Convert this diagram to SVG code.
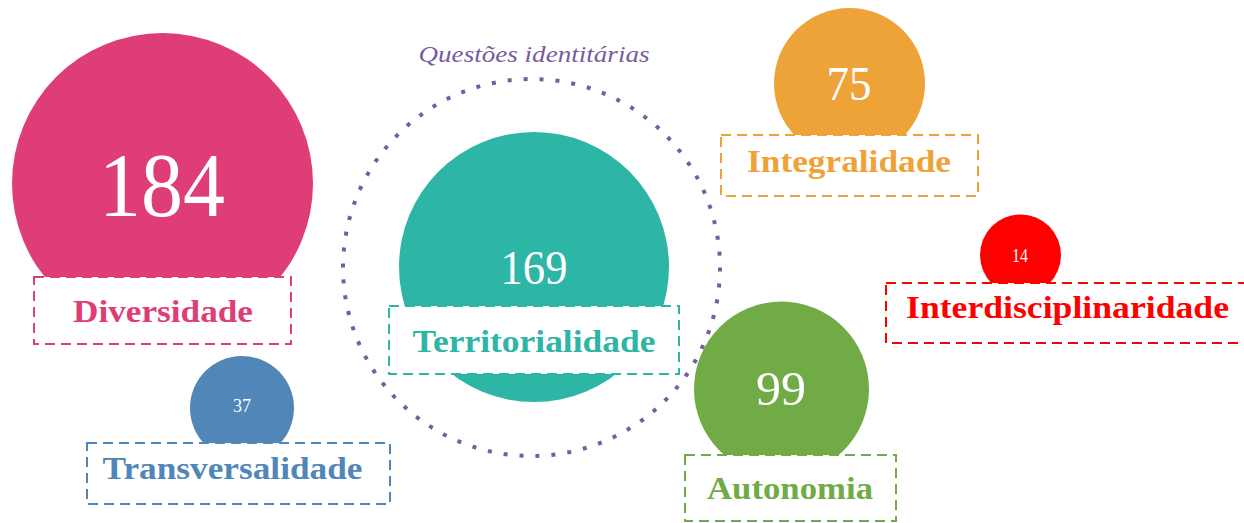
<svg xmlns="http://www.w3.org/2000/svg" width="1244" height="523" viewBox="0 0 1244 523">
<style>
text{font-family:"Liberation Serif","DejaVu Serif",serif;text-anchor:middle}
.num{fill:#ffffff;font-weight:normal}
.lbl{font-weight:bold;font-size:32px}
.box{fill:#ffffff;stroke-width:2;stroke-dasharray:10 6}
</style>
<rect width="1244" height="523" fill="#ffffff"/>
<g id="questoes-identitarias">
<circle cx="531.5" cy="267.5" r="188.5" fill="none" stroke="#775ca0" stroke-width="4" stroke-dasharray="4 12"/>
<text x="534" y="62" font-size="24" font-style="italic" fill="#775ca0" textLength="231" lengthAdjust="spacingAndGlyphs">Questões identitárias</text>
</g>
<g id="connectors"/>
<g id="diversidade">
<circle cx="162.5" cy="183.5" r="150.5" fill="#de3d78"/>
<text class="num" x="162" y="216" font-size="92" textLength="126" lengthAdjust="spacingAndGlyphs">184</text>
<rect class="box" x="34" y="277" width="257" height="67" stroke="#de3d78"/>
<text class="lbl" x="163" y="322" fill="#de3d78" textLength="180" lengthAdjust="spacingAndGlyphs">Diversidade</text>
</g>
<g id="territorialidade">
<circle cx="534" cy="267" r="135" fill="#2db5a6"/>
<text class="num" x="534" y="284" font-size="49" textLength="67" lengthAdjust="spacingAndGlyphs">169</text>
<rect class="box" x="389" y="306" width="290" height="68" stroke="#2db5a6"/>
<text class="lbl" x="534" y="352" fill="#2db5a6" textLength="243" lengthAdjust="spacingAndGlyphs">Territorialidade</text>
</g>
<g id="integralidade">
<circle cx="849.5" cy="83.5" r="75.5" fill="#eea339"/>
<text class="num" x="849" y="100" font-size="49" textLength="45" lengthAdjust="spacingAndGlyphs">75</text>
<rect class="box" x="721" y="135" width="257" height="61" stroke="#eea339"/>
<text class="lbl" x="849" y="172" fill="#eea339" textLength="204" lengthAdjust="spacingAndGlyphs">Integralidade</text>
</g>
<g id="interdisciplinaridade">
<circle cx="1020.5" cy="255" r="40.5" fill="#ff0000"/>
<text class="num" x="1020" y="262" font-size="18" textLength="16" lengthAdjust="spacingAndGlyphs">14</text>
<rect class="box" x="886" y="283" width="370" height="60" stroke="#ff0000"/>
<text class="lbl" x="1067.5" y="318" fill="#ff0000" textLength="323" lengthAdjust="spacingAndGlyphs">Interdisciplinaridade</text>
</g>
<g id="autonomia">
<circle cx="781.5" cy="389" r="87.5" fill="#70ab46"/>
<text class="num" x="781" y="405" font-size="49" textLength="50" lengthAdjust="spacingAndGlyphs">99</text>
<rect class="box" x="685" y="455" width="211" height="66" stroke="#70ab46"/>
<text class="lbl" x="790" y="499" fill="#70ab46" textLength="166" lengthAdjust="spacingAndGlyphs">Autonomia</text>
</g>
<g id="transversalidade">
<circle cx="242" cy="408" r="52" fill="#5186b8"/>
<text class="num" x="242" y="412" font-size="18" textLength="18" lengthAdjust="spacingAndGlyphs">37</text>
<rect class="box" x="87" y="443" width="303" height="61" stroke="#5186b8"/>
<text class="lbl" x="232.5" y="479" fill="#5186b8" textLength="260" lengthAdjust="spacingAndGlyphs">Transversalidade</text>
</g>
</svg>
